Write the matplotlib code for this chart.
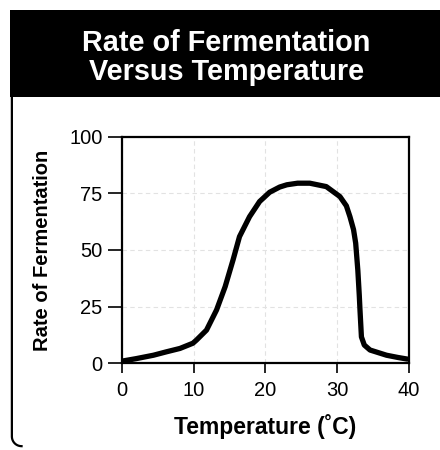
import matplotlib
matplotlib.use("Agg")
import numpy as np
import matplotlib.pyplot as plt
from matplotlib.patches import Rectangle
from matplotlib.lines import Line2D

# values
temp = [0.2, 2.0, 4.4, 6.2, 8.1, 9.9, 10.4, 11.8, 13.2, 14.4, 15.5, 16.4,
        17.8, 19.2, 20.6, 22.0, 23.0, 24.5, 26.2, 28.5, 30.4, 31.3, 31.8,
        32.3, 32.6, 32.9, 33.1, 33.2, 33.4, 33.8, 34.6, 36.9, 38.5, 39.8]
rate = [1.0, 2.0, 3.5, 5.0, 6.5, 8.8, 10.2, 14.6, 23.5, 33.8, 45.6, 55.9,
        64.7, 71.4, 75.5, 77.8, 78.8, 79.5, 79.5, 78.0, 73.6, 69.5, 64.7,
        59.0, 53.0, 41.0, 30.0, 23.5, 11.6, 8.0, 5.8, 3.5, 2.5, 1.8]

x_ticks = [0, 10, 20, 30, 40]
y_ticks = [0, 25, 50, 75, 100]

title = "Rate of Fermentation\nVersus Temperature"
xlabel = "Temperature (˚C)"
ylabel = "Rate of Fermentation"

plt.rcParams['font.family'] = ['Liberation Sans', 'DejaVu Sans']

fig = plt.figure(figsize=(4.4, 4.5), dpi=100)

# black title banner
fig.add_artist(Rectangle((0.023, 0.784), 0.977, 0.194, transform=fig.transFigure,
                         facecolor='black', edgecolor='none'))
fig.text(0.514, 0.872, title, ha='center', va='center', color='white',
         fontsize=20.8, fontweight='bold', linespacing=1.02)

# left frame line of the box, rounded at the bottom corner
a = np.linspace(np.pi, 1.5 * np.pi, 12)
cx = 0.027 + 0.022 * (1 + np.cos(a))
cy = 0.030 + 0.022 * (1 + np.sin(a)) * 440 / 450 - 0.0215
fig.add_artist(Line2D(np.r_[0.027, cx], np.r_[0.784, cy], transform=fig.transFigure,
                      color='black', lw=1.6))

ax = fig.add_axes([0.277, 0.193, 0.652, 0.503])
ax.plot(temp, rate, color='black', lw=3.8, solid_capstyle='round')

ax.set_xlim(0, 40)
ax.set_ylim(0, 100)
ax.set_xticks(x_ticks)
ax.set_yticks(y_ticks)
ax.tick_params(axis='both', labelsize=14.5, width=1.2, color='black')
ax.tick_params(axis='y', length=10, pad=4)
ax.tick_params(axis='x', length=7, pad=6)
for s in ax.spines.values():
    s.set_linewidth(1.6)

ax.grid(True, color='#e2e2e2', lw=0.8, linestyle=(0, (4, 3)))
ax.set_axisbelow(True)

ax.set_xlabel(xlabel, fontsize=16.5, fontweight='bold', labelpad=10)
ax.set_ylabel(ylabel, fontsize=14.5, fontweight='bold', labelpad=12)

fig.savefig("out.png", dpi=100)
